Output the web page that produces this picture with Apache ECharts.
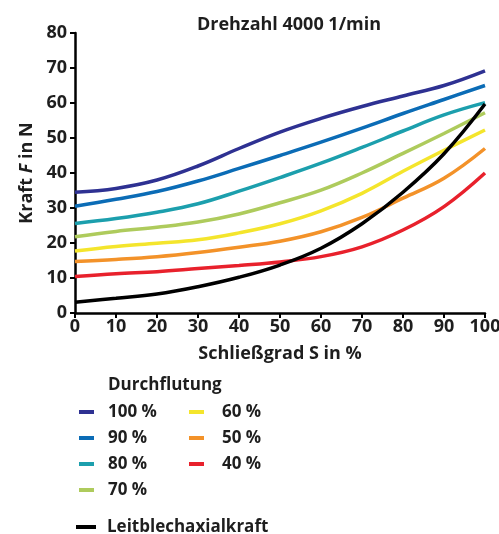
<!DOCTYPE html>
<html>
<head>
<meta charset="utf-8">
<script src="https://cdn.jsdelivr.net/npm/echarts@6/dist/echarts.min.js"></script>
<style>
  html, body { margin: 0; padding: 0; background: #fff; }
  #chart { width: 499px; height: 534px; }
</style>
</head>
<body>
<div id="chart"></div>
<script>
// Schließgrad S in %
const schliessgrad = [0, 10, 20, 30, 40, 50, 60, 70, 80, 90, 100]

// Kraft F in N je Durchflutung
const d100 = [34.5, 35.6, 38.0, 42.0, 47.0, 51.7, 55.6, 59.0, 62.0, 65.0, 69.2]
const d90 = [30.5, 32.5, 34.7, 37.7, 41.3, 45.0, 48.8, 52.8, 57.0, 61.0, 65.0]
const d80 = [25.6, 27.0, 28.8, 31.2, 34.8, 38.7, 42.8, 47.3, 52.0, 56.6, 60.1]
const d70 = [21.8, 23.3, 24.5, 26.0, 28.3, 31.5, 35.1, 40.0, 45.6, 51.3, 57.2]
const d60 = [17.7, 19.0, 19.9, 20.9, 22.9, 25.5, 29.2, 34.2, 40.5, 46.5, 52.3]
const d50 = [14.7, 15.3, 16.1, 17.3, 18.8, 20.5, 23.2, 27.3, 32.8, 38.5, 47.0]
const d40 = [10.4, 11.2, 11.8, 12.7, 13.6, 14.6, 16.1, 18.9, 23.7, 30.4, 40.0]
const leitblech = [3.1, 4.2, 5.4, 7.5, 10.2, 13.7, 18.5, 25.5, 34.5, 45.5, 59.7]

const yTicks = [0, 10, 20, 30, 40, 50, 60, 70, 80]
const xTicks = [0, 10, 20, 30, 40, 50, 60, 70, 80, 90, 100]

const seriesDefs = [
  { name: '100 %', data: d100, color: '#2e3192' },
  { name: '90 %', data: d90, color: '#0b6cb6' },
  { name: '80 %', data: d80, color: '#1c9fad' },
  { name: '70 %', data: d70, color: '#aecb5c' },
  { name: '60 %', data: d60, color: '#f4e52c' },
  { name: '50 %', data: d50, color: '#f39229' },
  { name: '40 %', data: d40, color: '#e8212c' },
  { name: 'Leitblechaxialkraft', data: leitblech, color: '#000000' }
]

const font = 'Open Sans'
const txt = '#1e1e1e'

const chart = echarts.init(document.getElementById('chart'))

const legendBase = {
  orient: 'vertical',
  icon: 'rect',
  padding: 0,
  itemHeight: 4,
  itemGap: 8,
  textStyle: { fontFamily: font, fontWeight: 'bold', fontSize: 17, color: txt, lineHeight: 18 }
}

chart.setOption({
  animation: false,
  title: {
    text: 'Drehzahl 4000 1/min',
    left: 284,
    top: 11,
    textAlign: 'center',
    textStyle: { fontFamily: font, fontWeight: 'bold', fontSize: 18, color: txt }
  },
  graphic: [{
    type: 'text',
    left: 108,
    top: 377,
    style: { text: 'Durchflutung', font: 'bold 17px "Open Sans"', fill: txt }
  }],
  legend: [
    Object.assign({}, legendBase, {
      left: 79, top: 403, itemWidth: 15,
      data: ['100 %', '90 %', '80 %', '70 %'],
      textStyle: Object.assign({}, legendBase.textStyle, { padding: [0, 0, 0, 9] })
    }),
    Object.assign({}, legendBase, {
      left: 189, top: 403, itemWidth: 15,
      data: ['60 %', '50 %', '40 %'],
      textStyle: Object.assign({}, legendBase.textStyle, { padding: [0, 0, 0, 13] })
    }),
    Object.assign({}, legendBase, {
      left: 76, top: 518, itemWidth: 20,
      data: ['Leitblechaxialkraft'],
      textStyle: Object.assign({}, legendBase.textStyle, { padding: [0, 0, 0, 6] })
    })
  ],
  grid: { left: 75, right: 14, top: 33, bottom: 221, outerBoundsMode: 'none', containLabel: false },
  xAxis: {
    type: 'value',
    min: xTicks[0],
    max: xTicks[xTicks.length - 1],
    interval: 10,
    name: 'Schließgrad S in %',
    nameLocation: 'middle',
    nameGap: 32,
    nameTextStyle: { fontFamily: font, fontWeight: 'bold', fontSize: 18, color: txt },
    axisLine: { lineStyle: { color: '#000', width: 2.5 } },
    axisTick: { length: 5, lineStyle: { color: '#000', width: 2 } },
    axisLabel: { fontFamily: font, fontWeight: 'bold', fontSize: 18, color: txt, margin: 5 },
    splitLine: { show: false }
  },
  yAxis: {
    type: 'value',
    min: yTicks[0],
    max: yTicks[yTicks.length - 1],
    interval: 10,
    name: '{a|Kraft }{i|F}{a| in N}',
    nameLocation: 'middle',
    nameGap: 34,
    nameTextStyle: {
      rich: {
        a: { fontFamily: font, fontWeight: 'bold', fontSize: 18, color: txt },
        i: { fontFamily: font, fontWeight: 'bold', fontStyle: 'italic', fontSize: 18, color: txt }
      }
    },
    axisLine: { show: true, lineStyle: { color: '#000', width: 2.5 } },
    axisTick: { show: true, length: 5, lineStyle: { color: '#000', width: 2 } },
    axisLabel: { fontFamily: font, fontWeight: 'bold', fontSize: 18, color: txt, margin: 8 },
    splitLine: { show: false }
  },
  series: seriesDefs.map(s => ({
    name: s.name,
    type: 'line',
    smooth: 0.4,
    symbol: 'none',
    data: schliessgrad.map((x, i) => [x, s.data[i]]),
    color: s.color,
    lineStyle: { width: 3.5, color: s.color }
  }))
})
</script>
</body>
</html>
